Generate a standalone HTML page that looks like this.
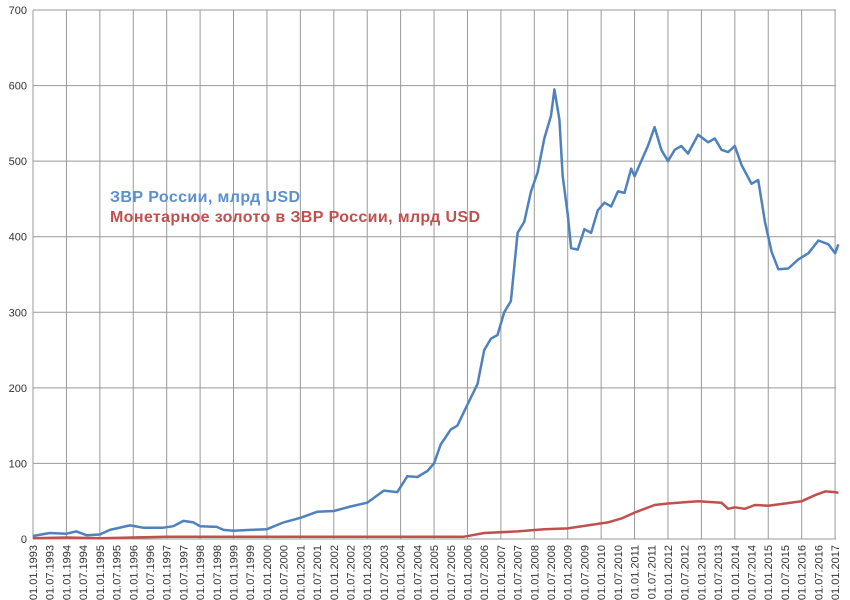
<!DOCTYPE html>
<html><head><meta charset="utf-8"><style>
html,body{margin:0;padding:0;background:#fff;width:850px;height:600px;overflow:hidden}
svg text{font-family:"Liberation Sans",Arial,sans-serif}
</style></head><body>
<svg id="c" width="850" height="600" xmlns="http://www.w3.org/2000/svg"></svg>
<script>
const s=document.getElementById('c');
const X=y=>33+(y-1993)*33.42, Y=v=>539-v*0.7557;
let h='';
for(let i=0;i<=7;i++){const y=Y(i*100);h+=`<line x1="33" x2="836" y1="${y}" y2="${y}" stroke="#999" stroke-width="1"/>`;
h+=`<text x="27" y="${y+4}" font-size="11" text-anchor="end" fill="#333">${i*100}</text>`;}
for(let k=0;k<=24;k++){const x=X(1993+k);h+=`<line x1="${x}" x2="${x}" y1="10" y2="539" stroke="#999" stroke-width="1"/>`;}
for(let k=0;k<=48;k++){const yr=1993+Math.floor(k/2);const lab=(k%2?'01.07.':'01.01.')+yr;const x=X(1993+k/2);
if(k<48||true)h+=`<text transform="translate(${x+4},545) rotate(-90)" font-size="11" text-anchor="end" fill="#333">${lab}</text>`;}
const b=[[1993,4],[1993.5,8],[1994,7],[1994.3,10],[1994.6,5],[1995,6],[1995.3,12],[1995.9,18],[1996.3,15],[1996.9,15],[1997.2,17],[1997.5,24],[1997.8,22],[1998,17],[1998.5,16],[1998.7,12],[1999,11],[1999.5,12],[2000,13],[2000.5,22],[2001,28],[2001.5,36],[2002,37],[2002.5,43],[2003,48],[2003.5,64],[2003.9,62],[2004.2,83],[2004.5,82],[2004.8,90],[2005,100],[2005.2,125],[2005.5,145],[2005.7,150],[2006,178],[2006.3,205],[2006.5,250],[2006.7,265],[2006.9,270],[2007.1,300],[2007.3,315],[2007.5,405],[2007.7,420],[2007.9,460],[2008.1,485],[2008.3,530],[2008.5,560],[2008.6,595],[2008.75,555],[2008.85,480],[2009,430],[2009.1,385],[2009.3,383],[2009.5,410],[2009.7,405],[2009.9,435],[2010.1,445],[2010.3,440],[2010.5,460],[2010.7,458],[2010.9,490],[2011,480],[2011.2,500],[2011.4,520],[2011.6,545],[2011.8,515],[2012,500],[2012.2,515],[2012.4,520],[2012.6,510],[2012.9,535],[2013.2,525],[2013.4,530],[2013.6,515],[2013.8,512],[2014,520],[2014.2,495],[2014.5,470],[2014.7,475],[2014.9,420],[2015.1,380],[2015.3,357],[2015.6,358],[2015.9,370],[2016.2,378],[2016.5,395],[2016.8,390],[2017,378],[2017.1,390]];
const r=[[1993,1],[1994,2],[1995,1],[1997,3],[1998,3],[1999,3],[2002,3],[2005.9,3],[2006.5,8],[2007.5,10],[2008.3,13],[2009,14],[2009.6,18],[2010.2,22],[2010.6,27],[2011,35],[2011.6,45],[2012,47],[2012.9,50],[2013.6,48],[2013.8,40],[2014,42],[2014.3,40],[2014.6,45],[2015,44],[2015.5,47],[2016,50],[2016.4,58],[2016.7,63],[2017,62],[2017.1,61]];
const p=a=>a.map((q,i)=>(i?'L':'M')+X(q[0]).toFixed(1)+','+Y(q[1]).toFixed(1)).join('');
h+=`<path d="${p(r)}" fill="none" stroke="#c0504d" stroke-width="2.5" stroke-linejoin="round"/>`;
h+=`<path d="${p(b)}" fill="none" stroke="#4f81bd" stroke-width="2.5" stroke-linejoin="round"/>`;
h+=`<text x="110" y="202" font-size="16" font-weight="bold" fill="#5b8fce" textLength="190">ЗВР России, млрд USD</text>`;
h+=`<text x="110" y="222" font-size="16" font-weight="bold" fill="#c0504d" textLength="370">Монетарное золото в ЗВР России, млрд USD</text>`;
s.innerHTML=h;
</script>
</body></html>
